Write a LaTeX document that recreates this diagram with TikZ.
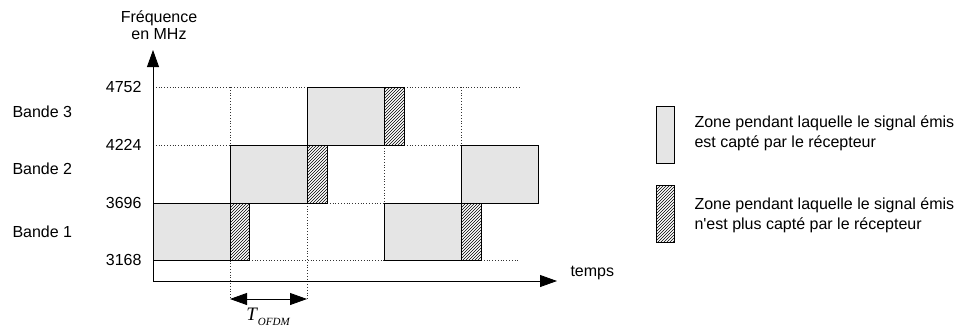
\documentclass[tikz,border=0pt]{standalone}
\usepackage{fontspec}
\setmainfont{Liberation Sans}
\newfontfamily\timesfont{Liberation Serif}
\usetikzlibrary{arrows.meta, patterns, positioning}

\tikzset{
    zoneon/.style={draw, line width=0.8pt, fill=black!10},
    zoneoff/.style={draw, line width=0.8pt, pattern=north east lines},
    grille/.style={dotted, line width=0.8pt, black!80},
}

\begin{document}
\begin{tikzpicture}[x=1pt, y=1pt, font=\fontsize{16}{17}\selectfont, >={Triangle[length=17pt, width=12pt]}]
    \useasboundingbox (0,0) rectangle (967,-333);

    % quadrillage
    \draw[grille] (153,-87) -- (307,-87) (404,-87) -- (520,-87);
    \draw[grille] (153,-145) -- (230,-145) (404,-145) -- (461,-145);
    \draw[grille] (327,-203) -- (384,-203);
    \draw[grille] (249,-260) -- (384,-260) (481,-260) -- (520,-260);
    \draw[grille] (230,-87) -- (230,-299);
    \draw[grille] (307,-203) -- (307,-299);
    \draw[grille] (384,-145) -- (384,-203);
    \draw[grille] (461,-87) -- (461,-145);

    % zones
    \draw[zoneon]  (153,-203) rectangle (230,-260);
    \draw[zoneoff] (230,-203) rectangle (249,-260);
    \draw[zoneon]  (230,-145) rectangle (307,-203);
    \draw[zoneoff] (307,-145) rectangle (327,-203);
    \draw[zoneon]  (307,-87) rectangle (384,-145);
    \draw[zoneoff] (384,-87) rectangle (404,-145);
    \draw[zoneon]  (384,-203) rectangle (461,-260);
    \draw[zoneoff] (461,-203) rectangle (481,-260);
    \draw[zoneon]  (461,-145) rectangle (538,-203);

    % axes
    \coordinate (origine) at (153,-281);
    \coordinate (yfin) at (153,-50);
    \coordinate (xfin) at (557,-281);
    \draw[->, line width=0.8pt] (origine) -- (yfin);
    \draw[->, line width=0.8pt] (origine) -- (xfin);
    \node[align=center] (freq) at (159,-25) {Fréquence\\en MHz};
    \node[anchor=west] (temps) at (567,-273) {temps};

    \node[anchor=east] (f4752) at (145,-87) {4752};
    \node[anchor=east] (f4224) at (145,-145) {4224};
    \node[anchor=east] (f3696) at (145,-203) {3696};
    \node[anchor=east] (f3168) at (145,-260) {3168};
    \node[anchor=west] (bande3) at (9,-112) {Bande 3};
    \node[anchor=west] (bande2) at (9,-169) {Bande 2};
    \node[anchor=west] (bande1) at (9,-232) {Bande 1};

    % duree symbole
    \coordinate (tdeb) at (230,-299);
    \coordinate (tfin) at (307,-299);
    \draw[<->, line width=0.8pt] (tdeb) -- (tfin);
    \node (tofdm) at (268,-317) {\timesfont\itshape\fontsize{19}{19}\selectfont T\kern1pt\raisebox{-5pt}{\fontsize{11}{11}\selectfont OFDM}};

    % legende
    \draw[zoneon]  (656,-106) rectangle (674,-163);
    \draw[zoneoff] (656,-185) rectangle (674,-242);
    \node[anchor=west, align=left, font=\fontsize{16}{20}\selectfont] (leg1) at (691,-133) {Zone pendant laquelle le signal émis\\est capté par le récepteur};
    \node[anchor=west, align=left, font=\fontsize{16}{20}\selectfont] (leg2) at (691,-215) {Zone pendant laquelle le signal émis\\n\textquotesingle est plus capté par le récepteur};
\end{tikzpicture}
\end{document}
